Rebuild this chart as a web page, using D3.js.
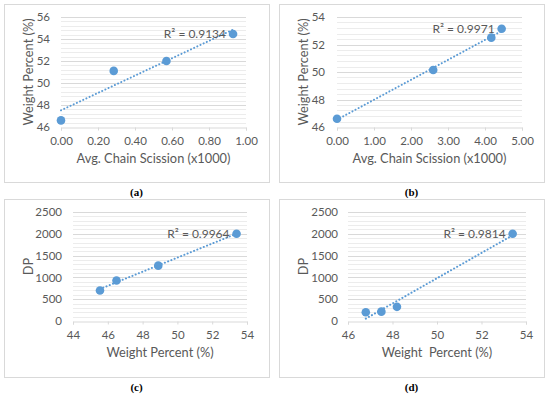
<!DOCTYPE html>
<html>
<head>
<meta charset="utf-8">
<script src="https://cdn.jsdelivr.net/npm/d3@7"></script>
<style>
  body { margin: 0; background: #fff; }
  svg { display: block; }
</style>
</head>
<body>
<script>
// panel data
var panelLabels = ["(a)", "(b)", "(c)", "(d)"];
var r2Labels = ["R\u00b2 = 0.9134", "R\u00b2 = 0.9971", "R\u00b2 = 0.9964", "R\u00b2 = 0.9814"];
var xTitles = ["Avg. Chain Scission (x1000)", "Avg. Chain Scission (x1000)", "Weight Percent (%)", "Weight  Percent (%)"];
var yTitles = ["Weight Percent (%)", "Weight Percent (%)", "DP", "DP"];

var xA = [0, 0.285, 0.57, 0.93];
var yA = [46.6, 51.1, 52.0, 54.45];
var xB = [0, 2.6, 4.17, 4.45];
var yB = [46.6, 50.15, 52.5, 53.15];
var xC = [45.55, 46.5, 48.9, 53.4];
var yC = [700, 930, 1270, 2000];
var xD = [46.8, 47.5, 48.2, 53.4];
var yD = [200, 215, 325, 2000];

var xTicksA = [0, 0.2, 0.4, 0.6, 0.8, 1.0];
var yTicksA = [46, 48, 50, 52, 54, 56];
var xTicksB = [0, 1, 2, 3, 4, 5];
var yTicksB = [46, 48, 50, 52, 54];
var xTicksC = [44, 46, 48, 50, 52, 54];
var yTicksC = [0, 500, 1000, 1500, 2000, 2500];
var xTicksD = [46, 48, 50, 52, 54];
var yTicksD = [0, 500, 1000, 1500, 2000, 2500];

var width = 550, height = 395;
var blue = "#5b9bd5", grid = "#d9d9d9", text = "#595959";
var font = "Lato, 'Open Sans', sans-serif";

var svg = d3.select("body").append("svg")
  .attr("width", width)
  .attr("height", height);

// layout of each panel: frame box and plot area
var panels = [
  { xs: xA, ys: yA, xt: xTicksA, yt: yTicksA, fx: d3.format(".2f"), fy: d3.format("d"),
    box: [4, 4, 265, 178], plot: [61, 17, 246, 127], ylx: 50, tx: 29 },
  { xs: xB, ys: yB, xt: xTicksB, yt: yTicksB, fx: d3.format(".2f"), fy: d3.format("d"),
    box: [279, 4, 265, 178], plot: [337, 17, 522, 127], ylx: 325, tx: 304 },
  { xs: xC, ys: yC, xt: xTicksC, yt: yTicksC, fx: d3.format("d"), fy: d3.format("d"),
    box: [4, 199, 265, 178], plot: [73, 212, 247, 321], ylx: 62, tx: 29 },
  { xs: xD, ys: yD, xt: xTicksD, yt: yTicksD, fx: d3.format("d"), fy: d3.format("d"),
    box: [279, 199, 265, 178], plot: [348, 212, 526, 321], ylx: 338, tx: 304 }
];

panels.forEach(function (p, i) {
  var g = svg.append("g");
  var x0 = p.plot[0], y0 = p.plot[1], x1 = p.plot[2], y1 = p.plot[3];
  var x = d3.scaleLinear().domain(d3.extent(p.xt)).range([x0, x1]);
  var y = d3.scaleLinear().domain(d3.extent(p.yt)).range([y1, y0]);

  g.append("rect")
    .attr("x", p.box[0] + 0.5).attr("y", p.box[1] + 0.5)
    .attr("width", p.box[2]).attr("height", p.box[3])
    .attr("fill", "#fff").attr("stroke", grid).attr("stroke-width", 1);

  // minor gridlines (5 divisions between majors)
  var step = p.yt[1] - p.yt[0];
  var minor = [];
  for (var k = 0; k < p.yt.length - 1; k++) {
    for (var m = 1; m < 5; m++) minor.push(p.yt[k] + step * m / 5);
  }
  g.selectAll(".minor").data(minor).enter().append("line")
    .attr("x1", x0).attr("x2", x1)
    .attr("y1", function (d) { return Math.round(y(d)) + 0.5; })
    .attr("y2", function (d) { return Math.round(y(d)) + 0.5; })
    .attr("stroke", "#ececec").attr("stroke-width", 1);

  g.selectAll(".major").data(p.yt.slice(1)).enter().append("line")
    .attr("x1", x0).attr("x2", x1)
    .attr("y1", function (d) { return Math.round(y(d)) + 0.5; })
    .attr("y2", function (d) { return Math.round(y(d)) + 0.5; })
    .attr("stroke", grid).attr("stroke-width", 1);

  // x axis
  var xAxis = d3.axisBottom(x).tickValues(p.xt).tickFormat(p.fx).tickSizeInner(3).tickSizeOuter(3).tickPadding(6);
  var ax = g.append("g").attr("transform", "translate(0," + (Math.round(y1) + 0.5) + ")").call(xAxis);
  ax.selectAll("path, line").attr("stroke", grid);
  ax.selectAll("text").attr("fill", text).style("font-family", font).style("font-size", "11.5px");

  // y axis labels only
  var yAxis = d3.axisLeft(y).tickValues(p.yt).tickFormat(p.fy).tickSize(0).tickPadding(0);
  var ay = g.append("g").attr("transform", "translate(" + p.ylx + ",0)").call(yAxis);
  ay.select(".domain").remove();
  ay.selectAll("text").attr("fill", text).style("font-family", font).style("font-size", "11.5px");

  // trendline (least squares)
  var mx = d3.mean(p.xs), my = d3.mean(p.ys);
  var sxy = d3.sum(p.xs, function (v, j) { return (v - mx) * (p.ys[j] - my); });
  var sxx = d3.sum(p.xs, function (v) { return (v - mx) * (v - mx); });
  var slope = sxy / sxx, icpt = my - slope * mx;
  var xe = d3.extent(p.xs);
  g.append("line")
    .attr("x1", x(xe[0])).attr("y1", y(icpt + slope * xe[0]))
    .attr("x2", x(xe[1])).attr("y2", y(icpt + slope * xe[1]))
    .attr("stroke", blue).attr("stroke-width", 2)
    .attr("stroke-dasharray", "0.1,3.4").attr("stroke-linecap", "round");

  g.selectAll(".pt").data(p.xs).enter().append("circle")
    .attr("cx", function (d) { return x(d); })
    .attr("cy", function (d, j) { return y(p.ys[j]); })
    .attr("r", 4.3)
    .attr("fill", blue);

  // R² label sits just left of the last point
  var last = p.xs.length - 1;
  g.append("text")
    .attr("x", x(p.xs[last]) - 7)
    .attr("y", y(p.ys[last]) + 4)
    .attr("text-anchor", "end")
    .attr("fill", text)
    .style("font-family", font).style("font-size", "12px")
    .text(r2Labels[i]);

  g.append("text")
    .attr("x", (x0 + x1) / 2)
    .attr("y", y1 + 36)
    .attr("text-anchor", "middle")
    .attr("fill", text)
    .style("font-family", font).style("font-size", "12.8px")
    .style("white-space", "pre")
    .text(xTitles[i]);

  g.append("text")
    .attr("transform", "translate(" + p.tx + "," + ((y0 + y1) / 2) + ") rotate(-90)")
    .attr("text-anchor", "middle")
    .attr("dy", "0.35em")
    .attr("fill", text)
    .style("font-family", font).style("font-size", "12.8px")
    .text(yTitles[i]);

  g.append("text")
    .attr("x", p.box[0] + p.box[2] / 2)
    .attr("y", p.box[1] + p.box[3] + 14)
    .attr("text-anchor", "middle")
    .attr("fill", "#000")
    .style("font-family", "'Liberation Serif', serif")
    .style("font-weight", "bold")
    .style("font-size", "11px")
    .text(panelLabels[i]);
});
</script>
</body>
</html>
